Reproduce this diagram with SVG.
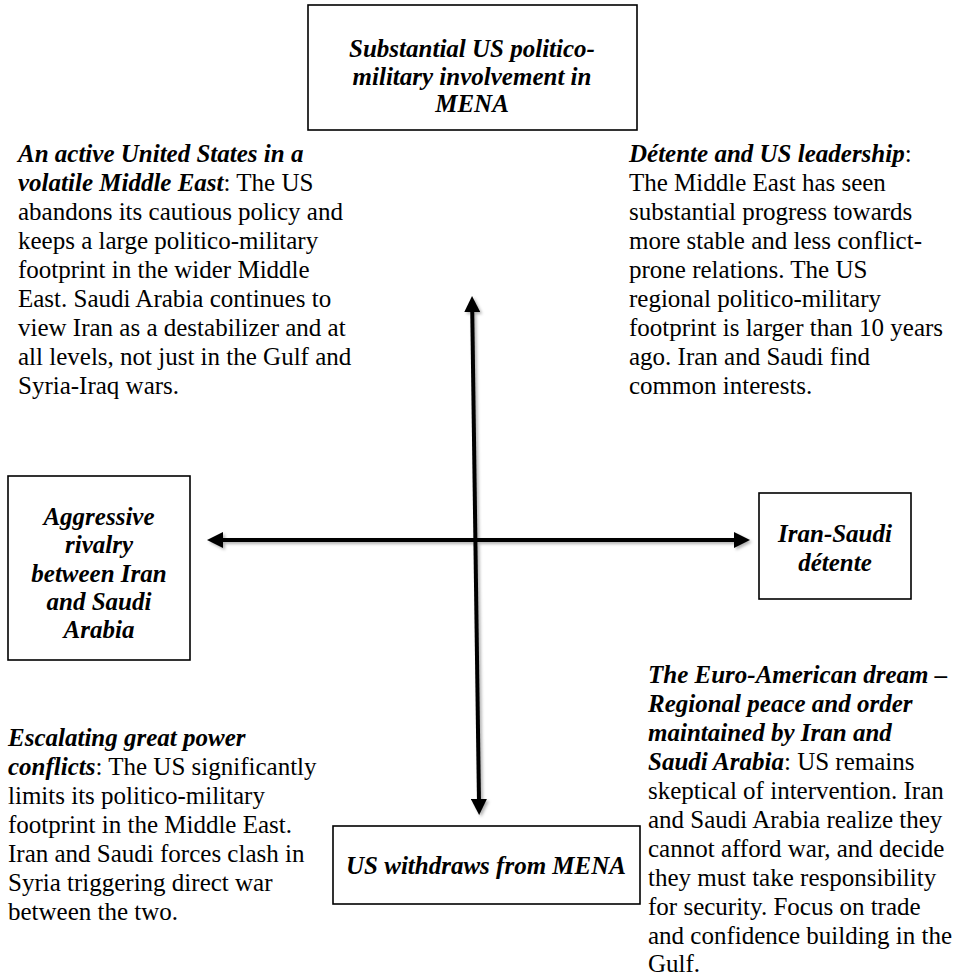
<svg xmlns="http://www.w3.org/2000/svg" width="964" height="978" viewBox="0 0 964 978">
<style>
  text { font-family: "Liberation Serif", "Times New Roman", serif; font-size: 25px; fill: #000; }
  .bi { font-weight: bold; font-style: italic; }
  .lbl { font-weight: bold; font-style: italic; text-anchor: middle; }
  .box { fill: #fff; stroke: #000; stroke-width: 1.6; }
  .conn { stroke: #000; stroke-width: 4; fill: none; }
</style>
<defs>
  <marker id="head" viewBox="0 0 16 16" markerUnits="userSpaceOnUse" markerWidth="16" markerHeight="16" refX="4" refY="8" orient="auto-start-reverse">
    <path d="M0,0 L16,8 L0,16 z" fill="#000"/>
  </marker>
  <filter id="shadow" x="-10%" y="-10%" width="120%" height="120%">
    <feDropShadow dx="2" dy="2" stdDeviation="1.5" flood-color="#000" flood-opacity="0.3"/>
  </filter>
</defs>
<rect width="964" height="978" fill="#fff"/>

<g id="connectors" filter="url(#shadow)">
  <line class="conn" x1="219" y1="540" x2="738" y2="540" marker-start="url(#head)" marker-end="url(#head)"/>
  <line class="conn" x1="472.2" y1="308" x2="479" y2="803" marker-start="url(#head)" marker-end="url(#head)"/>
</g>

<g id="node-top">
  <rect class="box" x="308" y="5" width="329" height="125"/>
  <text class="lbl" x="472" y="57">Substantial US politico-</text>
  <text class="lbl" x="472" y="85">military involvement in</text>
  <text class="lbl" x="472" y="112">MENA</text>
</g>

<g id="node-left">
  <rect class="box" x="8" y="476" width="182" height="184"/>
  <text class="lbl" x="99" y="525">Aggressive</text>
  <text class="lbl" x="99" y="553">rivalry</text>
  <text class="lbl" x="99" y="582">between Iran</text>
  <text class="lbl" x="99" y="610">and Saudi</text>
  <text class="lbl" x="99" y="638">Arabia</text>
</g>

<g id="node-right">
  <rect class="box" x="759" y="493" width="152" height="106"/>
  <text class="lbl" x="835" y="542">Iran-Saudi</text>
  <text class="lbl" x="835" y="571">détente</text>
</g>

<g id="node-bottom">
  <rect class="box" x="333" y="826" width="307" height="78"/>
  <text class="lbl" x="486" y="874">US withdraws from MENA</text>
</g>

<g id="scenario-top-left">
  <text x="18" y="162"><tspan class="bi">An active United States in a</tspan></text>
  <text x="18" y="191"><tspan class="bi">volatile Middle East</tspan>: The US</text>
  <text x="18" y="220">abandons its cautious policy and</text>
  <text x="18" y="249">keeps a large politico-military</text>
  <text x="18" y="278">footprint in the wider Middle</text>
  <text x="18" y="307">East. Saudi Arabia continues to</text>
  <text x="18" y="336">view Iran as a destabilizer and at</text>
  <text x="18" y="365">all levels, not just in the Gulf and</text>
  <text x="18" y="394">Syria-Iraq wars.</text>
</g>

<g id="scenario-top-right">
  <text x="629" y="162"><tspan class="bi">Détente and US leadership</tspan>:</text>
  <text x="629" y="191">The Middle East has seen</text>
  <text x="629" y="220">substantial progress towards</text>
  <text x="629" y="249">more stable and less conflict-</text>
  <text x="629" y="278">prone relations. The US</text>
  <text x="629" y="307">regional politico-military</text>
  <text x="629" y="336">footprint is larger than 10 years</text>
  <text x="629" y="365">ago. Iran and Saudi find</text>
  <text x="629" y="394">common interests.</text>
</g>

<g id="scenario-bottom-left">
  <text x="8" y="746"><tspan class="bi">Escalating great power</tspan></text>
  <text x="8" y="775"><tspan class="bi">conflicts</tspan>: The US significantly</text>
  <text x="8" y="804">limits its politico-military</text>
  <text x="8" y="833">footprint in the Middle East.</text>
  <text x="8" y="862">Iran and Saudi forces clash in</text>
  <text x="8" y="891">Syria triggering direct war</text>
  <text x="8" y="920">between the two.</text>
</g>

<g id="scenario-bottom-right">
  <text x="648" y="683"><tspan class="bi">The Euro-American dream –</tspan></text>
  <text x="648" y="712"><tspan class="bi">Regional peace and order</tspan></text>
  <text x="648" y="741"><tspan class="bi">maintained by Iran and</tspan></text>
  <text x="648" y="770"><tspan class="bi">Saudi Arabia</tspan>: US remains</text>
  <text x="648" y="799">skeptical of intervention. Iran</text>
  <text x="648" y="828">and Saudi Arabia realize they</text>
  <text x="648" y="857">cannot afford war, and decide</text>
  <text x="648" y="886">they must take responsibility</text>
  <text x="648" y="915">for security. Focus on trade</text>
  <text x="648" y="944">and confidence building in the</text>
  <text x="648" y="972">Gulf.</text>
</g>
</svg>
